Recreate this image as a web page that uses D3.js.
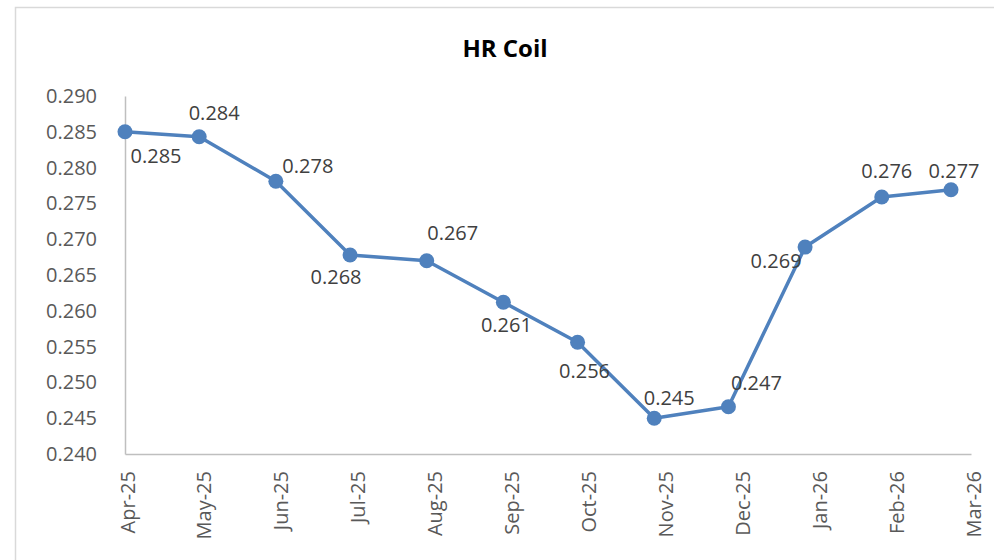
<!DOCTYPE html>
<html lang="en">
<head>
<meta charset="UTF-8">
<title>HR Coil</title>
<script src="https://d3js.org/d3.v7.min.js"></script>
<style>
  body { margin: 0; background: #fff; }
  text { font-family: "Open Sans", Lato, sans-serif; }
</style>
</head>
<body>
<div id="chart"></div>

<script>
// Data
const months = ["Apr-25", "May-25", "Jun-25", "Jul-25", "Aug-25", "Sep-25",
                "Oct-25", "Nov-25", "Dec-25", "Jan-26", "Feb-26", "Mar-26"];
const values = [0.2850, 0.2843, 0.2781, 0.2678, 0.2670, 0.2612,
                0.2556, 0.2450, 0.2466, 0.2689, 0.2759, 0.2769];
const yTicks = [0.240, 0.245, 0.250, 0.255, 0.260, 0.265, 0.270, 0.275, 0.280, 0.285, 0.290];

// where each data label sits relative to its point (dx, dy to baseline)
const labelOffsets = [[31, 31], [15, -17], [32, -8], [-14, 29], [26, -21], [3, 30],
                      [7, 36], [15, -13], [28, -17], [-29, 21], [5, -19], [3, -12]];

const width = 994, height = 560;
const margin = { top: 96, left: 125 };
const plotW = 846, plotH = 358;
const labelFont = "'Open Sans', Lato, sans-serif";

const svg = d3.select("#chart").append("svg")
  .attr("width", width)
  .attr("height", height);

// outer chart border
svg.append("rect")
  .attr("x", 15.5).attr("y", 7.5)
  .attr("width", 1000).attr("height", 600)
  .attr("fill", "none")
  .attr("stroke", "#d9d9d9")
  .attr("stroke-width", 1.5);

// title
svg.append("text")
  .attr("x", 505).attr("y", 57)
  .attr("text-anchor", "middle")
  .attr("font-family", "Lato, sans-serif")
  .attr("font-size", 24)
  .attr("font-weight", "bold")
  .attr("fill", "#000")
  .text("HR Coil");

const g = svg.append("g")
  .attr("transform", `translate(${margin.left},${margin.top})`);

const parse = d3.timeParse("%b-%y");
const data = months.map((m, i) => ({ month: m, date: parse(m), value: values[i] }));

// date axis: points sit on the 1st of each month
const xTime = d3.scaleTime()
  .domain([data[0].date, data[data.length - 1].date])
  .range([0, 826]);

// category labels are spread evenly across the axis
const xLabel = d3.scalePoint()
  .domain(months)
  .range([0, plotW]);

const y = d3.scaleLinear()
  .domain([0.240, 0.290])
  .range([plotH, 0]);

// y axis
const yAxis = g.append("g")
  .call(d3.axisLeft(y).tickValues(yTicks).tickFormat(d3.format(".3f")).tickSize(0).tickPadding(28));
yAxis.select(".domain").attr("stroke", "#bfbfbf").attr("stroke-width", 1.5);
yAxis.selectAll("text").attr("font-size", 20).attr("fill", "#595959").attr("font-family", labelFont);

// x axis
const xAxis = g.append("g")
  .attr("transform", `translate(0,${plotH})`)
  .call(d3.axisBottom(xLabel).tickSize(0).tickPadding(0));
xAxis.select(".domain").attr("stroke", "#bfbfbf").attr("stroke-width", 1.5);
xAxis.selectAll("text")
  .attr("font-size", 20)
  .attr("fill", "#595959")
  .attr("font-family", labelFont)
  .attr("text-anchor", "end")
  .attr("dy", "0.35em")
  .attr("transform", "translate(2,17) rotate(-90)");

// line
const line = d3.line()
  .x(d => xTime(d.date))
  .y(d => y(d.value));

g.append("path")
  .datum(data)
  .attr("fill", "none")
  .attr("stroke", "#4f81bd")
  .attr("stroke-width", 3.5)
  .attr("stroke-linejoin", "round")
  .attr("d", line);

// markers
g.selectAll("circle")
  .data(data)
  .enter().append("circle")
  .attr("cx", d => xTime(d.date))
  .attr("cy", d => y(d.value))
  .attr("r", 7.5)
  .attr("fill", "#4f81bd");

// data labels
g.selectAll(".lbl")
  .data(data)
  .enter().append("text")
  .attr("class", "lbl")
  .attr("x", (d, i) => xTime(d.date) + labelOffsets[i][0])
  .attr("y", (d, i) => y(d.value) + labelOffsets[i][1])
  .attr("text-anchor", "middle")
  .attr("font-family", labelFont)
  .attr("font-size", 20)
  .attr("fill", "#404040")
  .text(d => d3.format(".3f")(d.value));
</script>
</body>
</html>
